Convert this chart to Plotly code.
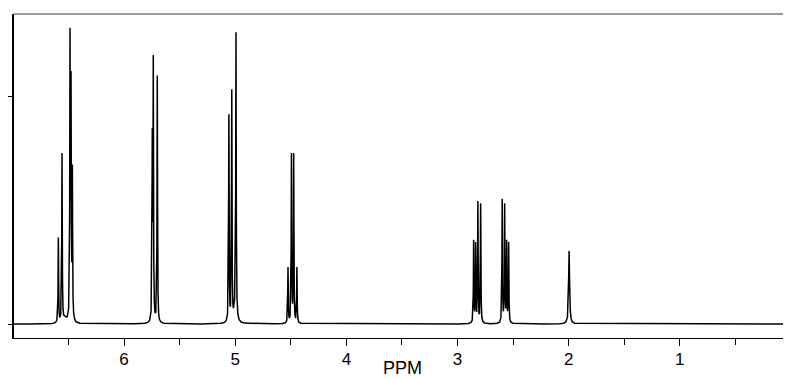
import numpy as np
import plotly.graph_objects as go

peak_ppm = [6.591, 6.558,
            6.486, 6.477, 6.465,
            5.746, 5.737, 5.701,
            5.057, 5.031, 4.993,
            4.525, 4.494, 4.474, 4.445,
            2.855, 2.837, 2.817, 2.792,
            2.598, 2.576, 2.558, 2.540,
            1.996]
peak_height = [0.38, 0.75,
               1.30, 1.11, 0.70,
               0.86, 1.18, 1.09,
               0.92, 1.03, 1.28,
               0.25, 0.75, 0.75, 0.25,
               0.37, 0.36, 0.54, 0.53,
               0.55, 0.53, 0.37, 0.36,
               0.32]
peak_width = [0.0025] * 23 + [0.005]
# broad underlying humps
broad_ppm = [5.0, 6.53]
broad_height = [0.06, 0.02]
broad_width = [0.014, 0.02]

x_tickvals = [0, 1, 2, 3, 4, 5, 6]
x_ticktext = ["0", "1", "2", "3", "4", "5", "6"]


def lor(x, x0, w):
    return w * w / ((x - x0) ** 2 + w * w)


p = np.array(peak_ppm)
w = np.array(peak_width)
target = np.array(peak_height, dtype=float)
for b0, bh, bw in zip(broad_ppm, broad_height, broad_width):
    target -= bh * lor(p, b0, bw)
M = np.array([[lor(pi, pj, wj) for pj, wj in zip(p, w)] for pi in p])
amp = np.linalg.solve(M, target)

x = np.union1d(np.arange(0.0, 6.99, 0.0005), p)
y = np.zeros_like(x)
for a, x0, wi in zip(amp, p, w):
    y += a * lor(x, x0, wi)
for b0, bh, bw in zip(broad_ppm, broad_height, broad_width):
    y += bh * lor(x, b0, bw)

fig = go.Figure()
fig.add_trace(go.Scatter(x=x, y=y, mode="lines",
                         line=dict(color="black", width=1.5),
                         hoverinfo="skip", showlegend=False))

family = "Arial, Liberation Sans, sans-serif"
tick_font = dict(family=family, size=17, color="black")
title_font = dict(family=family, size=18, color="black")
fig.update_layout(
    width=783, height=370,
    margin=dict(l=6, r=0, t=6, b=40, autoexpand=False),
    paper_bgcolor="white", plot_bgcolor="white",
    font=tick_font,
    xaxis=dict(range=[6.99, 0], showline=True, linecolor="black", linewidth=1,
               ticks="outside", ticklen=7, tickcolor="black",
               tickvals=x_tickvals, ticktext=x_ticktext, tickfont=tick_font,
               ticklabelstandoff=-1, ticklabeloverflow="allow",
               minor=dict(ticks="outside", ticklen=6, tickcolor="black", dtick=0.5, tick0=0),
               showgrid=False, zeroline=False, automargin=False,
               title=dict(text="PPM", standoff=4, font=title_font)),
    yaxis=dict(range=[-0.0614, 1.36], showline=True, linecolor="black", linewidth=1.5,
               ticks="outside", ticklen=10, tickcolor="black", tickvals=[0],
               minor=dict(ticks="outside", ticklen=6, tickcolor="black", tickvals=[1]),
               showticklabels=False, showgrid=False, zeroline=False, automargin=False),
    shapes=[dict(type="line", xref="paper", yref="paper", x0=0, x1=1, y0=1, y1=1,
                 line=dict(color="#777777", width=1.5))],
)
fig.write_html("out.html")
